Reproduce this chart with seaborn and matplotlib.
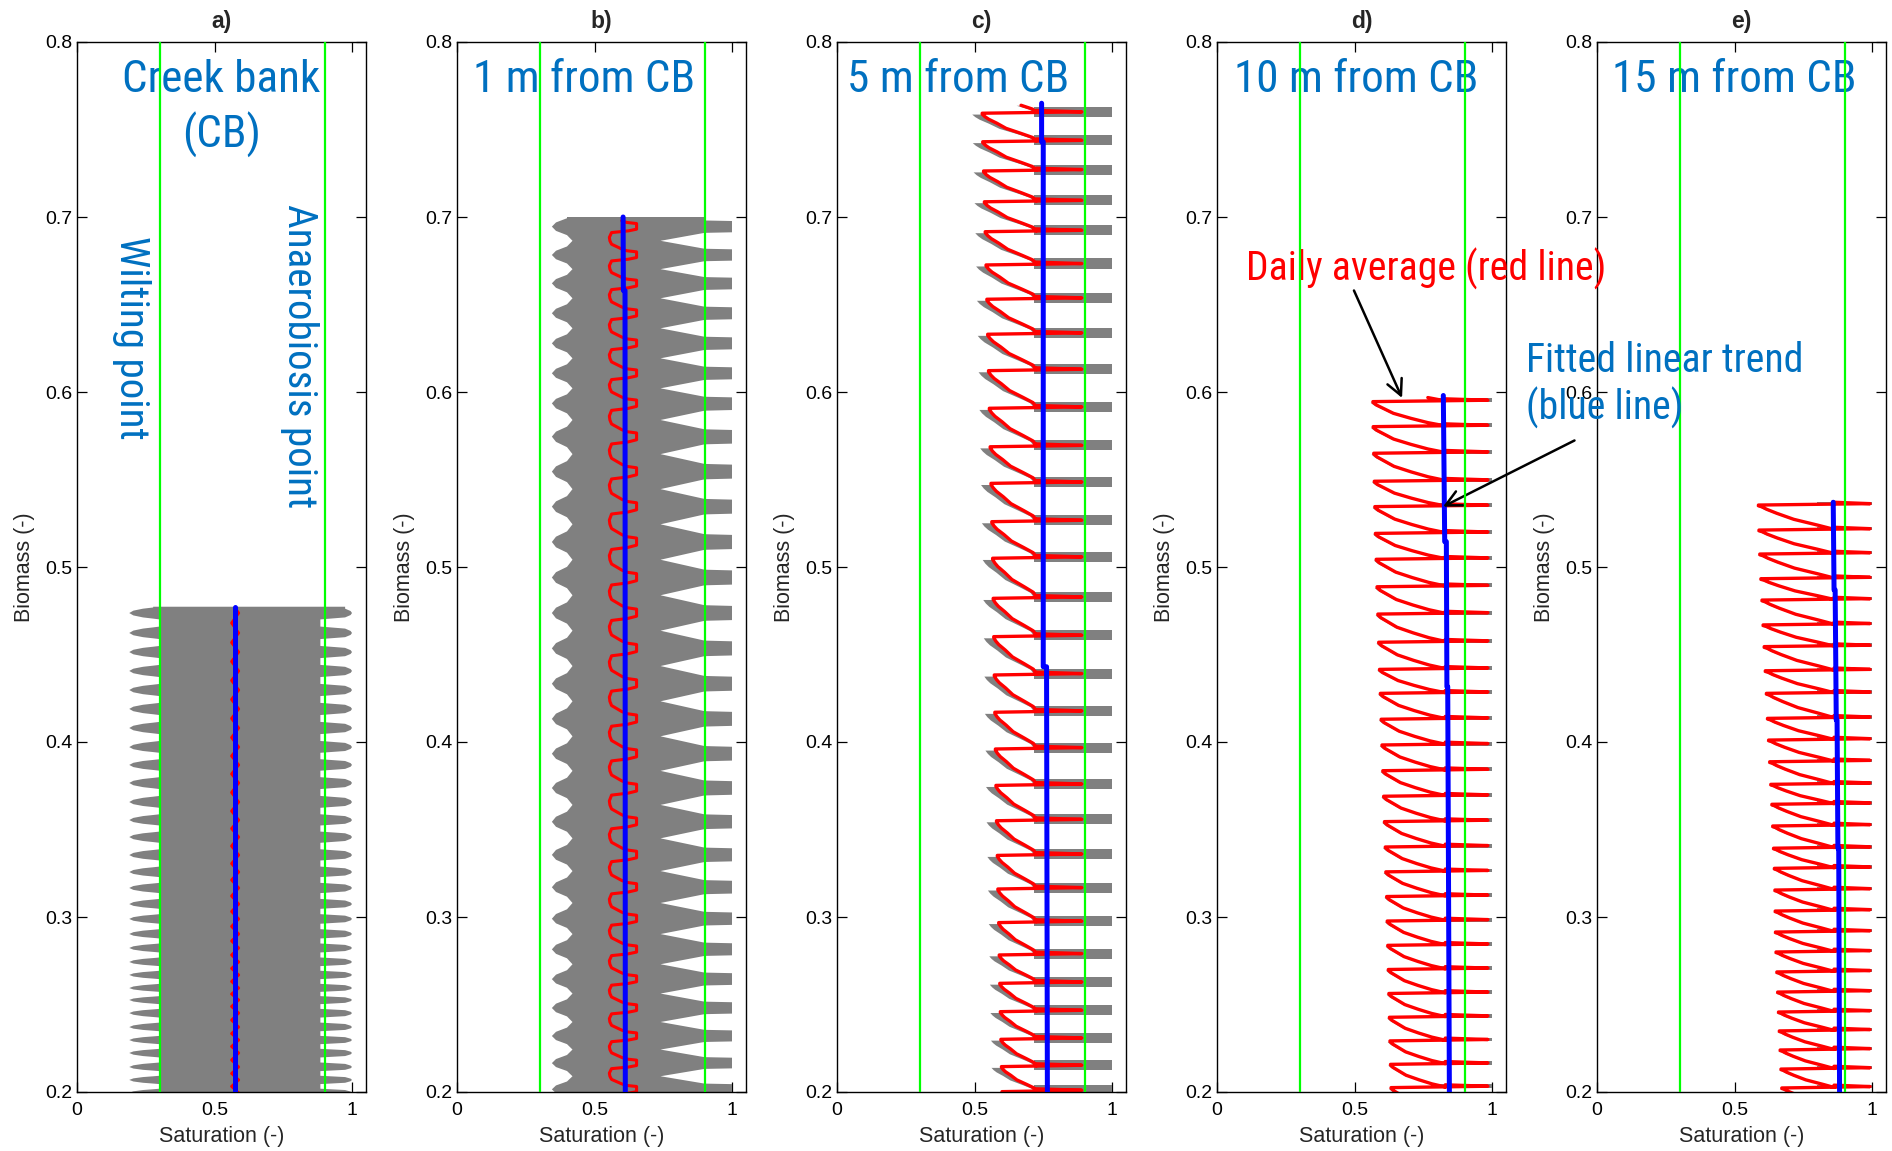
import os
import numpy as np
import matplotlib
matplotlib.use('Agg')
import matplotlib.pyplot as plt
from matplotlib import font_manager
import seaborn as sns

# ---- values ----
panel_letters = ['a)', 'b)', 'c)', 'd)', 'e)']
panel_names = ['Creek bank', '1 m from CB', '5 m from CB', '10 m from CB', '15 m from CB']
wilting_point = 0.3
anaerobiosis_point = 0.9
sat_ticks = [0, 0.5, 1]
sat_tick_labels = ['0', '0.5', '1']
biomass_ticks = [0.2, 0.3, 0.4, 0.5, 0.6, 0.7, 0.8]
biomass_tick_labels = ['0.2', '0.3', '0.4', '0.5', '0.6', '0.7', '0.8']

# panel a (creek bank): biomass at each spring-tide lobe, one-cycle envelope shapes
a_levels = [0.1995, 0.2069, 0.2143, 0.2223, 0.2297, 0.2371, 0.2451, 0.2526, 0.2594, 0.2669,
            0.2743, 0.2823, 0.2903, 0.2989, 0.3074, 0.3166, 0.3257, 0.3354, 0.3457, 0.3554,
            0.3657, 0.3766, 0.3869, 0.3971, 0.4080, 0.4189, 0.4297, 0.4406, 0.4514, 0.4623,
            0.4737, 0.4850]
a_top = 0.4773
a_left_phase = [0, 0.12, 0.22, 0.28, 0.32, 0.68, 0.72, 0.78, 0.88, 1.0]
a_gray_left = [0.19, 0.205, 0.24, 0.277, 0.30, 0.30, 0.277, 0.24, 0.205, 0.19]
a_right_phase = [0, 0.1, 0.22, 0.32, 0.68, 0.78, 0.9, 1.0]
a_gray_right = [1.0, 0.995, 0.975, 0.885, 0.885, 0.975, 0.995, 1.0]
a_red_phase = [0, 0.25, 0.5, 0.75, 1.0]
a_red = [0.588, 0.575, 0.562, 0.575, 0.588]
a_blue_biomass = [0.2, 0.4773]
a_blue_sat = [0.575, 0.575]

# panel b (1 m): biomass at the centre of each saturated bar
b_levels = [0.1870, 0.2015, 0.2165, 0.2320, 0.2480, 0.2645, 0.2815, 0.2990, 0.3170, 0.3355,
            0.3544, 0.3737, 0.3933, 0.4132, 0.4333, 0.4535, 0.4737, 0.4940, 0.5143, 0.5345,
            0.5545, 0.5745, 0.5935, 0.6107, 0.6278, 0.6450, 0.6621, 0.6783, 0.6945, 0.7105]
b_top = 0.700
b_left_phase = [0, 0.15, 0.3, 0.5, 0.7, 0.85, 1.0]
b_gray_left = [0.345, 0.36, 0.40, 0.42, 0.40, 0.36, 0.345]
b_right_phase = [0, 0.2, 0.22, 0.5, 0.78, 0.8, 1.0]
b_gray_right = [1.0, 1.0, 0.9, 0.74, 0.9, 1.0, 1.0]
b_red_phase = [0, 0.11, 0.15, 0.21, 0.38, 0.5, 0.62, 0.79, 0.85, 0.91, 1.0]
b_red = [0.653, 0.653, 0.617, 0.599, 0.562, 0.556, 0.554, 0.562, 0.623, 0.653, 0.653]
b_blue_biomass = [0.2, 0.658, 0.658, 0.7]
b_blue_sat = [0.612, 0.611, 0.605, 0.604]

# panel c (5 m): spring-tide levels and the driest daily value reached before each one
c_levels = [0.1860, 0.2002, 0.2145, 0.2301, 0.2459, 0.2621, 0.2783, 0.2968, 0.3160, 0.3352,
            0.3550, 0.3752, 0.3960, 0.4170, 0.4383, 0.4602, 0.4821, 0.5050, 0.5259, 0.5478,
            0.5687, 0.5907, 0.6122, 0.6330, 0.6530, 0.6726, 0.6916, 0.7087, 0.7263, 0.7430,
            0.7593, 0.7750]
c_tips = [0.600, 0.600, 0.598, 0.596, 0.594, 0.592, 0.590, 0.588, 0.585, 0.583,
          0.580, 0.578, 0.576, 0.574, 0.572, 0.570, 0.568, 0.566, 0.563, 0.560,
          0.557, 0.554, 0.551, 0.548, 0.545, 0.542, 0.539, 0.536, 0.533, 0.530,
          0.528, 0.526]
c_top = 0.765
c_phase = [0.03, 0.15, 0.29, 0.47, 0.65, 0.79, 0.88, 0.97]
c_frac = [1.0, 0.93, 0.72, 0.44, 0.27, 0.12, 0.05, 0.0]
c_blue_biomass = [0.2, 0.443, 0.443, 0.743, 0.743, 0.765]
c_blue_sat = [0.765, 0.762, 0.750, 0.750, 0.744, 0.744]

# panel d (10 m)
d_levels = [0.1895, 0.2025, 0.2158, 0.2292, 0.2427, 0.2563, 0.2700, 0.2838, 0.2977, 0.3117,
            0.3258, 0.3400, 0.3545, 0.3690, 0.3836, 0.3983, 0.4130, 0.4278, 0.4415, 0.4570,
            0.4731, 0.4887, 0.5044, 0.5192, 0.5345, 0.5490, 0.5650, 0.5802, 0.5945, 0.6090]
d_tips = [0.635, 0.633, 0.631, 0.629, 0.627, 0.625, 0.623, 0.621, 0.619, 0.617,
          0.614, 0.612, 0.609, 0.606, 0.603, 0.600, 0.597, 0.594, 0.591, 0.588,
          0.585, 0.582, 0.579, 0.576, 0.574, 0.572, 0.570, 0.568, 0.567, 0.566]
d_top = 0.598
d_phase = [0.03, 0.16, 0.333, 0.533, 0.733, 0.867, 0.973]
d_frac = [1.0, 0.76, 0.524, 0.283, 0.142, 0.047, 0.0]
d_blue_biomass = [0.2, 0.4316, 0.4316, 0.5145, 0.5145, 0.598]
d_blue_sat = [0.845, 0.839, 0.836, 0.834, 0.828, 0.823]

# panel e (15 m)
e_levels = [0.1920, 0.2023, 0.2131, 0.2240, 0.2349, 0.2457, 0.2571, 0.2686, 0.2800, 0.2914,
            0.3034, 0.3154, 0.3278, 0.3393, 0.3520, 0.3644, 0.3758, 0.3887, 0.4011, 0.4135,
            0.4278, 0.4407, 0.4545, 0.4669, 0.4811, 0.4933, 0.5074, 0.5211, 0.5354, 0.5490]
e_tips = [0.675, 0.672, 0.669, 0.666, 0.663, 0.660, 0.657, 0.654, 0.651, 0.649,
          0.648, 0.647, 0.645, 0.642, 0.639, 0.636, 0.632, 0.628, 0.624, 0.620,
          0.616, 0.612, 0.608, 0.604, 0.600, 0.596, 0.592, 0.589, 0.587, 0.586]
e_top = 0.537
e_phase = [0.03, 0.2, 0.43, 0.67, 0.83, 0.93, 0.97]
e_frac = [1.0, 0.78, 0.467, 0.243, 0.11, 0.044, 0.0]
e_blue_biomass = [0.2, 0.3393, 0.3393, 0.4126, 0.4126, 0.4869, 0.4869, 0.537]
e_blue_sat = [0.882, 0.879, 0.876, 0.873, 0.870, 0.866, 0.862, 0.859]

GRAY = '#808080'
TXT_BLUE = '#0070c0'
GREEN = '#00ff00'


def pick_narrow_font():
    # the original labels use a narrow sans; take one if it is installed
    wanted = ['liberationsansnarrow-regular', 'arialnarrow', 'robotocondensed-regular',
              'opensans_condensed-regular', 'opensanscondensed-regular',
              'dejavusanscondensed.ttf']
    files = [f.fname for f in font_manager.fontManager.ttflist]
    for key in wanted:
        for fn in files:
            if key in os.path.basename(fn).lower():
                return font_manager.FontProperties(fname=fn)
    return font_manager.FontProperties(family=['Liberation Sans', 'DejaVu Sans'])


def repeat_cycles(levels, phase, values, top):
    # lay one cycle shape between every pair of consecutive levels
    b, s = [], []
    for lo, hi in zip(levels[:-1], levels[1:]):
        for p, v in zip(phase, values):
            b.append(lo + p * (hi - lo))
            s.append(v)
    b, s = np.array(b), np.array(s)
    keep = b <= top
    return b[keep], s[keep]


def draw_envelope(ax, levels, lp, left, rp, right, red_p, red, top):
    bl, sl = repeat_cycles(levels, lp, left, top)
    br, sr = repeat_cycles(levels, rp, right, top)
    bl = np.append(bl, top)
    sl = np.append(sl, sl[-1])
    br = np.append(br, top)
    sr = np.append(sr, sr[-1])
    ax.fill(np.concatenate([sl, sr[::-1]]), np.concatenate([bl, br[::-1]]),
            color=GRAY, lw=0, zorder=1)
    return repeat_cycles(levels, red_p, red, top)


def draw_teeth(ax, levels, tips, start, right, phase, frac, top,
               bar_left, bar_h, shade, shade_tip):
    levels = np.array(levels)
    phase = np.array(phase)
    frac = np.array(frac)
    # gray hourly values: a bar at each spring tide ...
    lv = levels[levels <= top]
    ax.barh(y=lv + 0.0008, width=1.0 - bar_left, left=bar_left, height=bar_h,
            color=GRAY, lw=0, zorder=1)
    # ... and a band along every drying curve
    b, s = [], []
    for k in range(len(levels) - 1):
        lo, hi = levels[k], levels[k + 1]
        bc = lo + phase * (hi - lo)
        sc = tips[k + 1] + frac * (start - tips[k + 1])
        off = shade + shade_tip * (1 - frac)
        m = bc <= top
        if m.sum() > 1:
            ax.fill_betweenx(bc[m], sc[m] - off[m], sc[m] + 0.003, color=GRAY, lw=0, zorder=1)
        if lo <= top:
            b += [lo, lo + 0.0008, lo + 0.0016]
            s += [tips[k], right, start]
            b += list(bc[m])
            s += list(sc[m])
    return np.array(b), np.array(s)


def style_axes(ax, letter):
    ax.set_xlim(0, 1.05)
    ax.set_ylim(0.2, 0.8)
    ax.set_xticks(sat_ticks)
    ax.set_xticklabels(sat_tick_labels)
    ax.set_yticks(biomass_ticks)
    ax.set_yticklabels(biomass_tick_labels)
    ax.tick_params(direction='in', length=7, width=0.9, top=True, right=True,
                   labelsize=14, colors='black')
    ax.tick_params(axis='x', pad=7.5)
    ax.tick_params(axis='y', pad=3.5)
    ax.set_xlabel('Saturation (-)', fontsize=15.5, labelpad=5)
    ax.set_ylabel('Biomass (-)', fontsize=15.5, labelpad=7)
    ax.set_title(letter, fontsize=16.5, fontweight='bold', pad=10)
    for sp in ax.spines.values():
        sp.set_linewidth(1.0)
        sp.set_color('black')
    ax.axvline(wilting_point, color=GREEN, lw=1.6, zorder=4)
    ax.axvline(anaerobiosis_point, color=GREEN, lw=1.6, zorder=4)


def line(ax, x, y, color, lw, z):
    sns.lineplot(x=x, y=y, sort=False, estimator=None, ax=ax, color=color,
                 lw=lw, zorder=z, legend=False)


def main():
    sns.set_theme(style='ticks')
    plt.rcParams['font.family'] = ['Liberation Sans', 'DejaVu Sans']

    fig = plt.figure(figsize=(18.92, 11.51), dpi=100)
    lefts = [77, 457, 837, 1217, 1597]
    axes = [fig.add_axes([l / 1892, 59 / 1151, 288.75 / 1892, 1050 / 1151]) for l in lefts]

    # narrow font, sized so that "Creek bank" is as wide as in the original (199 px)
    narrow = pick_narrow_font()
    probe = fig.text(0, 0, 'Creek bank', fontproperties=narrow, fontsize=34)
    width = probe.get_window_extent(fig.canvas.get_renderer()).width
    probe.remove()
    scale = 199.0 / width

    def ann(ax, x, y, s, size, color, **kw):
        fp = narrow.copy()
        fp.set_size(size * scale)
        ax.text(x, y, s, fontproperties=fp, color=color, **kw)

    # 1. creek bank
    ax = axes[0]
    rb, rs = draw_envelope(ax, a_levels, a_left_phase, a_gray_left, a_right_phase,
                           a_gray_right, a_red_phase, a_red, a_top)
    line(ax, rs, rb, 'red', 2.0, 2)
    line(ax, a_blue_sat, a_blue_biomass, 'blue', 3.6, 3)

    # 2. 1 m from creek bank
    ax = axes[1]
    rb, rs = draw_envelope(ax, b_levels, b_left_phase, b_gray_left, b_right_phase,
                           b_gray_right, b_red_phase, b_red, b_top)
    line(ax, rs, rb, 'red', 2.2, 2)
    line(ax, b_blue_sat, b_blue_biomass, 'blue', 3.6, 3)

    # 3. sawtooth panels
    teeth = [
        (axes[2], c_levels, c_tips, 0.725, 0.89, c_phase, c_frac, c_top, 0.715, 0.0058, 0.010, 0.028,
         c_blue_sat, c_blue_biomass),
        (axes[3], d_levels, d_tips, 0.83, 0.985, d_phase, d_frac, d_top, 0.78, 0.0022, 0.003, 0.007,
         d_blue_sat, d_blue_biomass),
        (axes[4], e_levels, e_tips, 0.862, 0.993, e_phase, e_frac, e_top, 0.80, 0.0020, 0.003, 0.007,
         e_blue_sat, e_blue_biomass),
    ]
    for (ax, lev, tips, start, right, ph, fr, top, bar_left, bar_h, sh, sht, bs, bb) in teeth:
        rb, rs = draw_teeth(ax, lev, tips, start, right, ph, fr, top, bar_left, bar_h, sh, sht)
        line(ax, rs, rb, 'red', 2.4, 2)
        line(ax, bs, bb, 'blue', 3.6, 3)

    for ax, letter in zip(axes, panel_letters):
        style_axes(ax, letter)

    # 4. annotations
    ax = axes[0]
    ann(ax, 0.525, 0.7716, panel_names[0], 34, TXT_BLUE, ha='center', va='baseline')
    ann(ax, 0.525, 0.7394, '(CB)', 34, TXT_BLUE, ha='center', va='baseline')
    ann(ax, 0.197, 0.631, 'Wilting point', 31, TXT_BLUE, rotation=270, ha='center', va='center')
    ann(ax, 0.81, 0.6206, 'Anaerobiosis point', 31, TXT_BLUE, rotation=270,
        ha='center', va='center')

    for ax, name, x0 in zip(axes[1:], panel_names[1:], [0.058, 0.036, 0.062, 0.055]):
        ann(ax, x0, 0.7716, name, 34, TXT_BLUE, ha='left', va='baseline')

    ax = axes[3]
    ax.set_zorder(5)
    axes[4].patch.set_visible(False)
    ann(ax, 0.105, 0.6634, 'Daily average (red line)', 30, 'red', ha='left', va='baseline')
    ann(ax, 1.124, 0.6117, 'Fitted linear trend', 30, TXT_BLUE, ha='left', va='baseline')
    ann(ax, 1.124, 0.584, '(blue line)', 30, TXT_BLUE, ha='left', va='baseline')
    arrow = dict(arrowstyle='->,head_length=0.8,head_width=0.4', color='black', lw=1.8,
                 shrinkA=0, shrinkB=0, mutation_scale=14)
    ax.annotate('', xy=(0.673, 0.5966), xytext=(0.498, 0.658), arrowprops=arrow,
                annotation_clip=False)
    ax.annotate('', xy=(0.822, 0.5345), xytext=(1.30, 0.5723), arrowprops=arrow,
                annotation_clip=False)

    fig.savefig('out.png', dpi=100)


if __name__ == "__main__":
    main()
